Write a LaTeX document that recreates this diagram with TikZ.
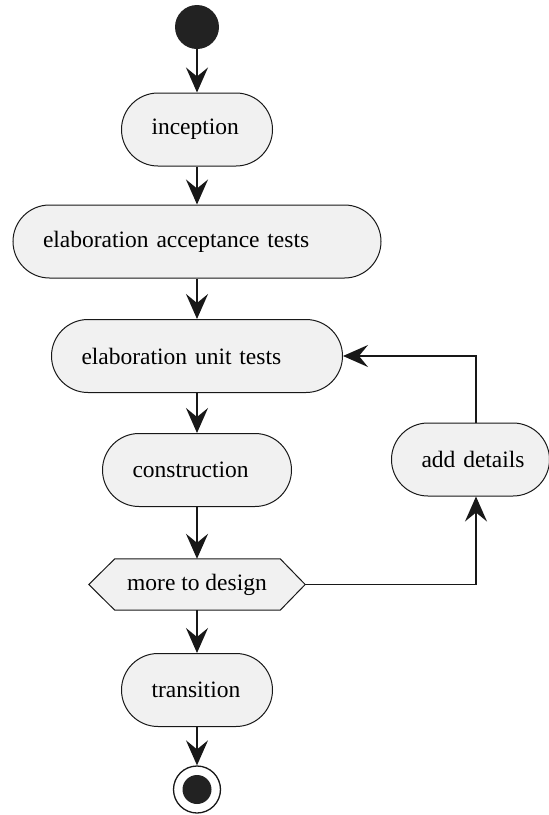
\documentclass[tikz,border=0pt]{standalone}
\usepackage{fontspec}
\setmainfont{Liberation Serif}
\usetikzlibrary{arrows.meta,calc,backgrounds}
\definecolor{ink}{HTML}{181818}
\definecolor{boxfill}{HTML}{F1F1F1}
\definecolor{dotfill}{HTML}{222222}
\begin{document}
\begin{tikzpicture}[x=1pt,y=-1pt,
  act/.style={draw=ink, line width=1pt, fill=boxfill, rounded corners=36.5pt,
    minimum height=73pt, inner xsep=30pt, inner ysep=0pt, align=left,
    font=\fontsize{23.5}{28}\selectfont, text=black},
  choice/.style={minimum width=216pt, minimum height=51pt, inner sep=0pt,
    font=\fontsize{23.5}{28}\selectfont, text=black},
  hexline/.style={draw=ink, line width=1pt, fill=boxfill},
  flow/.style={draw=ink, line width=1.5pt, -{Stealth[length=25pt,width=22pt,inset=9pt]}},
  startdot/.style={circle, fill=dotfill, minimum size=44pt, inner sep=0pt},
  endring/.style={circle, draw=ink, line width=1.3pt, fill=white, minimum size=47pt, inner sep=0pt},
  enddot/.style={circle, fill=dotfill, minimum size=29pt, inner sep=0pt}
]
\useasboundingbox (0,0) rectangle (549,815);

% activities
\node[startdot] (start) at (197,27) {};
\node[act, text width=91pt]  (inc)  at (197,129.5) {\mbox{inception}};
\node[act, text width=308pt] (acc)  at (197,241.5) {\mbox{elaboration acceptance tests}};
\node[act, text width=231pt] (unit) at (197,356)   {\mbox{elaboration unit tests}};
\node[act, text width=129pt] (con)  at (197,470)   {\mbox{construction}};
\node[choice] (dec) at (197,584.5) {more to design};
\node[act, text width=91pt]  (tra)  at (197,690)   {\mbox{transition}};
\node[act, text width=98pt]  (add)  at (470.5,459.5) {\mbox{add details}};
\node[endring] (stop) at (197,789.5) {};
\node[enddot] (stopdot) at (stop.center) {};

% hexagonal decision outline behind its label
\begin{scope}[on background layer]
  \draw[hexline] (dec.west) -- ($(dec.north west)+(26,0)$) -- ($(dec.north east)+(-25,0)$)
    -- (dec.east) -- ($(dec.south east)+(-25,0)$) -- ($(dec.south west)+(26,0)$) -- cycle;
\end{scope}

% main flow
\draw[flow] (start) -- (inc);
\draw[flow] (inc) -- (acc);
\draw[flow] (acc) -- (unit);
\draw[flow] (unit) -- (con);
\draw[flow] (con) -- (dec.north);
\draw[flow] (dec.south) -- (tra);
\draw[flow] (tra) -- (stop);

% loop back
\coordinate (addtop) at ([xshift=5.5pt]add.north);
\coordinate (addbot) at ([xshift=5.5pt]add.south);
\draw[flow] (dec.east) -| (addbot);
\draw[flow] (addtop) |- (unit.east);
\end{tikzpicture}
\end{document}
